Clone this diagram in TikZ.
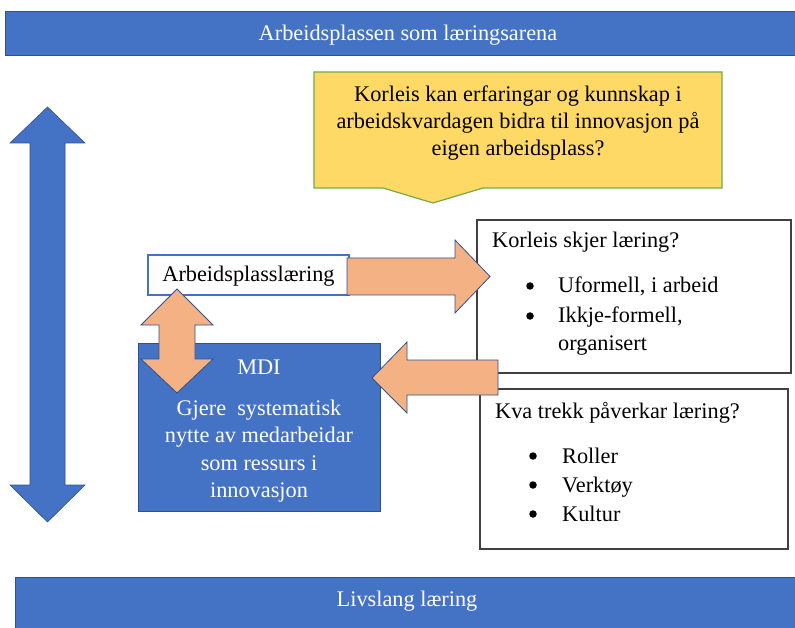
\documentclass[tikz,border=0pt]{standalone}
\usepackage{fontspec}
\setmainfont{Liberation Serif}
\usetikzlibrary{calc}

\definecolor{barblue}{HTML}{4472C4}
\definecolor{edgeblue}{HTML}{2F528F}
\definecolor{arroworange}{HTML}{F4B183}
\definecolor{noteyellow}{HTML}{FFD966}
\definecolor{notegreen}{HTML}{70AD47}

\begin{document}
\begin{tikzpicture}[x=1pt, y=-1pt,
    txt/.style ={inner sep=0pt, font=\fontsize{22.3}{27.3}\selectfont},
    item/.style ={txt, anchor=base west},
    bullet/.style ={circle, fill=black, inner sep=0pt, minimum size=7.5pt},
    bar/.style ={fill=barblue, draw=edgeblue, line width=0.6pt},
    blockarrow/.style ={fill=arroworange, draw=edgeblue, line width=0.8pt},
    infobox/.style ={draw=black!75, line width=1.1pt, fill=white}]
   \useasboundingbox (0,0) rectangle (795,628);
   % bars
   \draw[bar] (5,11) rectangle (800,55);
   \node[txt, text=white] (arena) at (408,35) {Arbeidsplassen som læringsarena};
   \draw[bar] (15,577) rectangle (800,633);
   \node[txt, text=white] (livslang) at (407,601) {Livslang læring};
   % question
   \draw[fill=noteyellow, draw=notegreen, line width=1.2pt]
     (314,72) -- (722,72) -- (722,188) -- (483,188) -- (433,203) -- (383,188) -- (314,188) -- cycle;
   \node[txt, align=center] (question) at (518,123)
     {Korleis kan erfaringar og kunnskap i\\arbeidskvardagen bidra til innovasjon på\\eigen arbeidsplass?};
   % blue double arrow
   \draw[fill=barblue, draw=edgeblue, line width=0.6pt]
     (47.5,107) -- (85,143) -- (65,143) -- (65,485) -- (85,485) -- (47.5,522)
     -- (10,485) -- (30,485) -- (30,143) -- (10,143) -- cycle;
   % boxes
   \draw[infobox] (477,220) rectangle (791,373);
   \draw[infobox] (480,389) rectangle (788,549);
   \draw[bar, line width=1pt] (138,343) rectangle (380,511);
   \draw[fill=white, draw=barblue, line width=1.5pt] (148,255) rectangle (349,295);
   \node[txt] (apl) at (248.5,276) {Arbeidsplasslæring};
   % orange arrows
   \draw[blockarrow] (347,258) -- (455,258) -- (455,240) -- (490,276.5) -- (455,313)
     -- (455,295) -- (347,295) -- cycle;
   \draw[blockarrow] (177,289) -- (213,325) -- (195,325) -- (195,359) -- (213,359)
     -- (177,393) -- (141,359) -- (159,359) -- (159,325) -- (141,325) -- cycle;
   \draw[blockarrow] (372,378) -- (407,342) -- (407,360) -- (498,360) -- (498,395)
     -- (407,395) -- (407,413) -- cycle;
   % MDI text
   \node[txt, text=white] (mdi) at (259,367) {MDI};
   \node[txt, text=white, align=center] (mdibody) at (259,451)
     {Gjere \ systematisk\\nytte av medarbeidar\\som ressurs i\\innovasjon};
   % how learning happens
   \node[item] (how) at (492,248) {Korleis skjer læring?};
   \node[bullet] (b1) at (530,286) {};
   \node[item] (uformell) at (558,293) {Uformell, i arbeid};
   \node[bullet] (b2) at (530,316) {};
   \node[item] (ikkje) at (558,323) {Ikkje-formell,};
   \node[item] (organisert) at (558,350) {organisert};
   % what affects learning
   \node[item] (kva) at (495,418) {Kva trekk påverkar læring?};
   \node[bullet] (b3) at (533,456) {};
   \node[item] (roller) at (562,463) {Roller};
   \node[bullet] (b4) at (533,485) {};
   \node[item] (verktoy) at (562,492) {Verktøy};
   \node[bullet] (b5) at (533,514) {};
   \node[item] (kultur) at (562,521) {Kultur};
\end{tikzpicture}
\end{document}
